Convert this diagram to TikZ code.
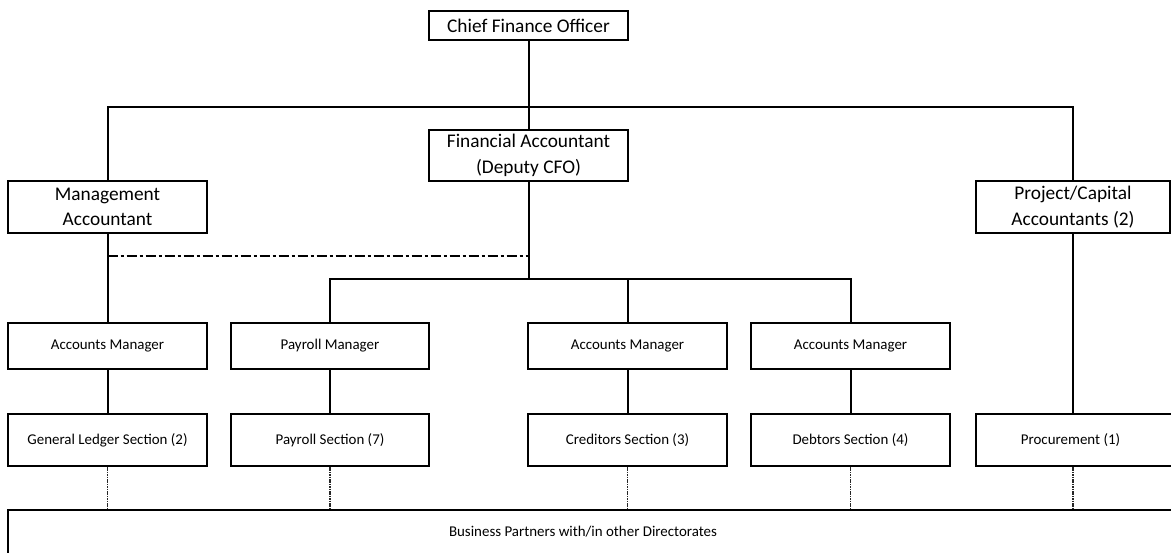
\documentclass[tikz,border=0pt]{standalone}
\usepackage{fontspec}
\setmainfont{Carlito}
\newcommand\bx[7]{\node[box,#7, minimum width={(#4-#2)*0.75pt}, minimum height={(#5-#3)*0.75pt}] (#1) at ({(#2+#4)/2},{(#3+#5)/2}) {#6};}
\begin{document}
\begin{tikzpicture}[x=0.75pt,y=-0.75pt,
  box/.style={draw, line width=1.5pt, inner sep=0pt, align=center},
  big/.style={font=\fontsize{14.5}{19}\selectfont},
  small/.style={font=\fontsize{11.2}{13}\selectfont},
  conn/.style={line width=1.5pt},
  dd/.style={line width=1.7pt, dash pattern=on 7.5pt off 2.25pt on 2.25pt off 2.25pt},
  dotl/.style={line width=0.9pt, black!85, dash pattern=on 1.2pt off 0.6pt}]
\fill[white] (0,0) rectangle (1171,553);
\useasboundingbox (0,0) rectangle (1171,553);
\clip (0,0) rectangle (1171,553);
% top levels
\bx{cfo}{429}{11}{628}{40}{Chief Finance Officer}{big}
\bx{fa}{429}{130}{628}{181}{Financial Accountant\\(Deputy CFO)}{big}
\bx{ma}{8}{181}{207}{233}{Management\\Accountant}{big}
\bx{proj}{976}{181}{1170}{233}{Project/Capital\\Accountants (2)}{big}
% managers
\bx{am1}{8}{323}{207}{369}{Accounts Manager}{small}
\bx{pm}{231}{323}{429}{369}{Payroll Manager}{small}
\bx{am2}{528}{323}{727}{369}{Accounts Manager}{small}
\bx{am3}{751}{323}{950}{369}{Accounts Manager}{small}
% sections
\bx{gl}{8}{414}{207}{466}{General Ledger Section (2)}{small}
\bx{ps}{231}{414}{429}{466}{Payroll Section (7)}{small}
\bx{cs}{528}{414}{727}{466}{Creditors Section (3)}{small}
\bx{ds}{751}{414}{950}{466}{Debtors Section (4)}{small}
\bx{proc}{976}{414}{1185}{466}{\hspace*{-15pt}Procurement (1)}{small}
% business partners
\bx{biz}{8}{510}{1190}{575}{}{}
\node[small, inner sep=0pt] (biztext) at (583,532) {Business Partners with/in other Directorates};
% connectors
\coordinate (topbar) at (0,107);
\coordinate (ddy) at (0,256);
\coordinate (mbar) at (0,279);
\draw[conn] (cfo.south) -- (fa.north);
\draw[conn] (ma.north) -- (ma.north |- topbar) -- (proj.north |- topbar) -- (proj.north);
\draw[conn] (ma.south) -- (am1.north);
\draw[conn] (proj.south) -- (proj.south |- proc.north);
\draw[dd] (ma.south |- ddy) -- (fa.south |- ddy);
\draw[conn] (fa.south) -- (fa.south |- mbar);
\draw[conn] (pm.north) -- (pm.north |- mbar) -- (am3.north |- mbar) -- (am3.north);
\draw[conn] (am2.north) -- (am2.north |- mbar);
\draw[conn] (am1.south) -- (gl.north);
\draw[conn] (pm.south) -- (ps.north);
\draw[conn] (am2.south) -- (cs.north);
\draw[conn] (am3.south) -- (ds.north);
\draw[dotl] (gl.south) -- (gl.south |- biz.north);
\draw[dotl] (ps.south) -- (ps.south |- biz.north);
\draw[dotl] (cs.south) -- (cs.south |- biz.north);
\draw[dotl] (ds.south) -- (ds.south |- biz.north);
\draw[dotl] (proj.south |- proc.south) -- (proj.south |- biz.north);
\end{tikzpicture}
\end{document}
